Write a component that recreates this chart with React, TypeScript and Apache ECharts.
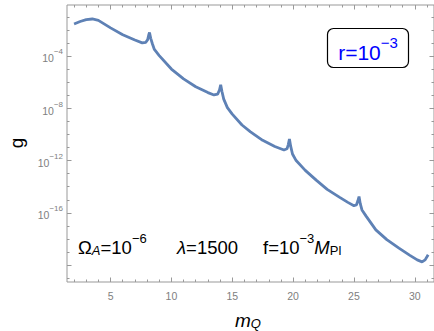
import React, { useEffect, useRef } from 'react';
import * as echarts from 'echarts';

const mQ = [2.0, 2.5, 3.0, 3.5, 4.0, 5.0, 6.0, 7.0, 7.6, 7.9, 8.05, 8.15, 8.2, 8.3, 8.45, 8.6, 9.0, 10.0, 11.0, 12.0, 13.0, 13.5, 13.8, 13.95, 14.05, 14.15, 14.3, 14.6, 15.0, 15.8, 16.5, 17.5, 18.5, 19.25, 19.5, 19.6, 19.7, 19.8, 19.95, 20.25, 21.0, 21.9, 22.8, 23.8, 24.5, 25.0, 25.2, 25.32, 25.42, 25.52, 25.66, 26.0, 26.8, 27.7, 28.7, 29.6, 30.2, 30.6, 30.85, 31.1];
const logG = [-1.55, -1.36, -1.22, -1.17, -1.28, -1.85, -2.37, -2.78, -3.0, -2.95, -2.75, -2.35, -2.2, -2.65, -3.1, -3.5, -3.97, -5.0, -5.75, -6.35, -6.8, -6.98, -6.92, -6.6, -6.2, -6.7, -7.3, -7.95, -8.45, -9.28, -9.8, -10.45, -10.92, -11.19, -11.1, -10.8, -10.35, -10.9, -11.5, -12.0, -12.75, -13.5, -14.2, -14.8, -15.2, -15.45, -15.4, -15.1, -14.75, -15.3, -15.78, -16.25, -17.3, -18.05, -18.7, -19.25, -19.6, -19.75, -19.6, -19.2];

const xMajorTicks = [5, 10, 15, 20, 25, 30];
const xMinorTicks = [2, 3, 4, 5, 6, 7, 8, 9, 10, 11, 12, 13, 14, 15, 16, 17, 18, 19, 20, 21, 22, 23, 24, 25, 26, 27, 28, 29, 30, 31];
const yMajorTicks = [-20, -16, -12, -8, -4];
const yLabelValues = [-16, -12, -8, -4];
const yMinorTicks = [-21, -20, -19, -18, -17, -16, -15, -14, -13, -12, -11, -10, -9, -8, -7, -6, -5, -4, -3, -2, -1];

const X_MIN = 1.42;
const X_MAX = 31.58;
const Y_MIN = -21.29;
const Y_MAX = -0.1;

const FONT = 'Liberation Sans';
const GRAY = '#999999';
const LABEL_GRAY = '#808080';

export default function App() {
  const ref = useRef<HTMLDivElement>(null);
  useEffect(() => {
    const chart = echarts.init(ref.current!, null, { renderer: 'svg' });

    const xBase = (position: string, ticks: number[], len: number, labels: boolean) => ({
      type: 'value',
      position,
      min: X_MIN,
      max: X_MAX,
      gridIndex: 0,
      axisLine: { show: false },
      splitLine: { show: false },
      axisTick: { show: true, inside: true, length: len, customValues: ticks, lineStyle: { color: GRAY, width: 1 } },
      axisLabel: labels
        ? { show: true, customValues: xMajorTicks, color: LABEL_GRAY, fontSize: 10.5, fontFamily: FONT, margin: 8 }
        : { show: false },
    });
    const yBase = (position: string, ticks: number[], len: number, labels: boolean) => ({
      type: 'value',
      position,
      min: Y_MIN,
      max: Y_MAX,
      gridIndex: 0,
      axisLine: { show: false },
      splitLine: { show: false },
      axisTick: { show: true, inside: true, length: len, customValues: ticks, lineStyle: { color: GRAY, width: 1 } },
      axisLabel: labels
        ? {
            show: true,
            customValues: yLabelValues,
            margin: 4,
            formatter: (v: number) => `{b|10}{s|\u2212${Math.abs(Math.round(v))}}`,
            rich: {
              b: { fontSize: 10.5, fontFamily: FONT, color: LABEL_GRAY, lineHeight: 16, verticalAlign: 'bottom' },
              s: { fontSize: 8, fontFamily: FONT, color: LABEL_GRAY, lineHeight: 10, verticalAlign: 'top' },
            },
          }
        : { show: false },
    });

    const sup = { fontSize: 13, fontFamily: FONT, fill: '#000', verticalAlign: 'top', lineHeight: 12 };
    const main = { fontSize: 18.5, fontFamily: FONT, fill: '#000', lineHeight: 25, verticalAlign: 'bottom' };
    const mainIt = { ...main, fontStyle: 'italic' };
    const sub = { fontSize: 13, fontFamily: FONT, fill: '#000', verticalAlign: 'bottom', lineHeight: 12 };
    const subIt = { ...sub, fontStyle: 'italic' };

    const option = {
      animation: false,
      grid: { left: 67, top: 5, width: 368, height: 277, show: true, borderColor: GRAY, borderWidth: 1, backgroundColor: 'transparent' },
      xAxis: [
        xBase('bottom', xMajorTicks, 4.5, true),
        xBase('bottom', xMinorTicks, 2.5, false),
        xBase('top', xMajorTicks, 4.5, false),
        xBase('top', xMinorTicks, 2.5, false),
      ],
      yAxis: [
        yBase('left', yMajorTicks, 4.5, true),
        yBase('left', yMinorTicks, 2.5, false),
        yBase('right', yMajorTicks, 4.5, false),
        yBase('right', yMinorTicks, 2.5, false),
      ],
      series: [
        {
          type: 'line',
          xAxisIndex: 0,
          yAxisIndex: 0,
          data: mQ.map((x, i) => [x, logG[i]]),
          showSymbol: false,
          smooth: false,
          lineStyle: { color: '#5E81B5', width: 2.8 },
          clip: true,
        },
      ],
      graphic: [
        {
          type: 'text',
          x: 78,
          y: 257,
          style: {
            text: '{a|\u03A9}{ai|A}{a|=10}{p|\u22126}',
            rich: { a: main, ai: subIt, p: sup },
            align: 'left',
            verticalAlign: 'bottom',
          },
        },
        {
          type: 'text',
          x: 177,
          y: 257,
          style: {
            text: '{ai|\u03BB}{a|=1500}',
            rich: { a: main, ai: mainIt },
            align: 'left',
            verticalAlign: 'bottom',
          },
        },
        {
          type: 'text',
          x: 263,
          y: 257,
          style: {
            text: '{a|f=10}{p|\u22123}{mi|M}{s|Pl}',
            rich: { a: main, p: sup, mi: mainIt, s: sub },
            align: 'left',
            verticalAlign: 'bottom',
          },
        },
        {
          type: 'rect',
          shape: { x: 327.5, y: 28.5, width: 81, height: 39, r: 6 },
          style: { fill: '#fff', stroke: '#000', lineWidth: 1.2 },
        },
        {
          type: 'text',
          x: 368,
          y: 49,
          style: {
            text: '{a|r=10}{p|\u22123}',
            rich: {
              a: { fontSize: 21, fontFamily: FONT, fill: '#0000ff', lineHeight: 28, verticalAlign: 'bottom' },
              p: { fontSize: 15, fontFamily: FONT, fill: '#0000ff', lineHeight: 14, verticalAlign: 'top' },
            },
            align: 'center',
            verticalAlign: 'middle',
          },
        },
        {
          type: 'text',
          x: 16,
          y: 143,
          rotation: Math.PI / 2,
          style: { text: 'g', font: `19px "${FONT}"`, fill: '#000', align: 'center', verticalAlign: 'middle' },
        },
        {
          type: 'text',
          x: 248,
          y: 319,
          style: {
            text: '{mi|m}{s|Q}',
            rich: {
              mi: { fontSize: 19, fontFamily: FONT, fontStyle: 'italic', fill: '#000', lineHeight: 22, verticalAlign: 'bottom' },
              s: { fontSize: 13, fontFamily: FONT, fontStyle: 'italic', fill: '#000', lineHeight: 12, verticalAlign: 'bottom' },
            },
            align: 'center',
            verticalAlign: 'middle',
          },
        },
      ],
    };
    chart.setOption(option as any);
    return () => chart.dispose();
  }, []);
  return <div ref={ref} style={{ position: 'absolute', left: 0, top: 0, width: 434, height: 331 }} />;
}
